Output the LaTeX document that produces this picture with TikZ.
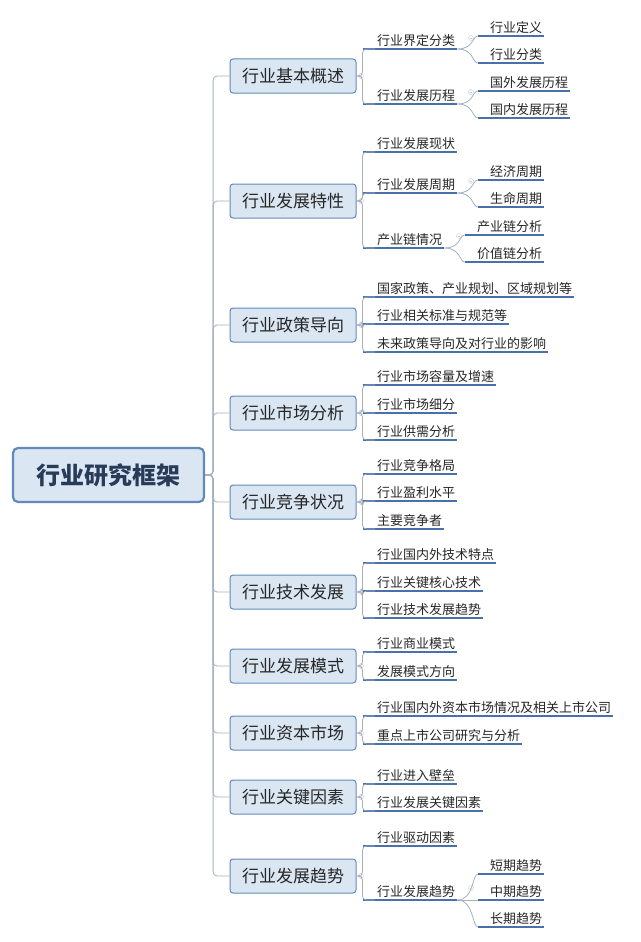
\documentclass[tikz,border=0pt]{standalone}
\usepackage{fontspec}
\newfontfamily\cjk{Noto Sans CJK SC}
\definecolor{boxfill}{RGB}{219,230,243}
\definecolor{boxline}{RGB}{98,137,186}
\definecolor{ulcolor}{RGB}{72,112,170}
\definecolor{linkgray}{RGB}{165,176,190}
\definecolor{roottext}{RGB}{40,60,90}
\tikzset{
  root/.style={draw=boxline, fill=boxfill, line width=2.2pt, rounded corners=5pt,
    font=\cjk\fontsize{24}{24}\selectfont\bfseries, text=roottext,
    minimum width=191pt, minimum height=54pt},
  topic/.style={draw=boxline, fill=boxfill, line width=1pt, rounded corners=3pt,
    font=\cjk\fontsize{17}{17}\selectfont, text=black!85,
    minimum width=126pt, minimum height=34pt},
  sub/.style={anchor=south west, inner sep=2pt, font=\cjk\fontsize{13}{13}\selectfont, text=black!85},
  uline/.style={draw=ulcolor, line width=1.3pt},
  link/.style={draw=linkgray, line width=0.8pt, rounded corners=4pt},
  fold/.style={draw=linkgray!70, line width=0.4pt}
}
% one underlined text: name, line start, text x, line y, text
\newcommand\subnode[5]{%
  \node[sub] (#1) at (#3,#4) {#5};
  \draw[uline] (#2,#4) -- (#1.south east);}
% small fold mark
\newcommand\foldmark[2]{%
  \draw[fold] (#1,#2) circle (2.5pt); \draw[fold] (#1-1.4,#2) -- (#1+1.4,#2);}
\begin{document}
\begin{tikzpicture}[x=1pt,y=-1pt]
\useasboundingbox (0,0) rectangle (640,942);

%ROOT
\node[root] (r) at (108.5,475) {行业研究框架};

%TOPICS
\foreach \n/\y/\t in {t1/76/行业基本概述, t2/201/行业发展特性, t3/325/行业政策导向,
  t4/413/行业市场分析, t5/502/行业竞争状况, t6/592/行业技术发展, t7/666/行业发展模式,
  t8/733/行业资本市场, t9/797/行业关键因素, t10/876/行业发展趋势}{
  \node[topic] (\n) at (293,\y) {\t};
  \draw[link] (r.east) -- ++(8,0) |- (\n.west);
  \foldmark{361}{\y}
}

%SUBTOPICS (line start 363, text 375)
\subnode{s11}{363}{375}{49}{行业界定分类}
\subnode{s12}{363}{375}{104}{行业发展历程}
\subnode{s21}{363}{375}{152}{行业发展现状}
\subnode{s22}{363}{375}{193}{行业发展周期}
\subnode{s23}{363}{375}{248}{产业链情况}
\subnode{s31}{363}{375}{297}{国家政策、产业规划、区域规划等}
\subnode{s32}{363}{375}{324}{行业相关标准与规范等}
\subnode{s33}{363}{375}{352}{未来政策导向及对行业的影响}
\subnode{s41}{363}{375}{385}{行业市场容量及增速}
\subnode{s42}{363}{375}{413}{行业市场细分}
\subnode{s43}{363}{375}{440}{行业供需分析}
\subnode{s51}{363}{375}{474}{行业竞争格局}
\subnode{s52}{363}{375}{501}{行业盈利水平}
\subnode{s53}{363}{375}{529}{主要竞争者}
\subnode{s61}{363}{375}{563}{行业国内外技术特点}
\subnode{s62}{363}{375}{591}{行业关键核心技术}
\subnode{s63}{363}{375}{618}{行业技术发展趋势}
\subnode{s71}{363}{375}{652}{行业商业模式}
\subnode{s72}{363}{375}{680}{发展模式方向}
\subnode{s81}{363}{375}{716}{行业国内外资本市场情况及相关上市公司}
\subnode{s82}{363}{375}{744}{重点上市公司研究与分析}
\subnode{s91}{363}{375}{784}{行业进入壁垒}
\subnode{s92}{363}{375}{811}{行业发展关键因素}
\subnode{s101}{363}{375}{846}{行业驱动因素}
\subnode{s102}{363}{375}{900}{行业发展趋势}

\foreach \p/\c in {t1/s11,t1/s12,t2/s21,t2/s22,t2/s23,t3/s31,t3/s32,t3/s33,
  t4/s41,t4/s42,t4/s43,t5/s51,t5/s52,t5/s53,t6/s61,t6/s62,t6/s63,
  t7/s71,t7/s72,t8/s81,t8/s82,t9/s91,t9/s92,t10/s101,t10/s102}{
  \draw[link] (\p.east) -- ++(6,0) |- (\c.south west);
}

%LEAVES
\subnode{l111}{478}{488}{36}{行业定义}
\subnode{l112}{478}{488}{63}{行业分类}
\subnode{l121}{478}{488}{91}{国外发展历程}
\subnode{l122}{478}{488}{118}{国内发展历程}
\subnode{l221}{478}{488}{180}{经济周期}
\subnode{l222}{478}{488}{207}{生命周期}
\subnode{l231}{465}{475}{235}{产业链分析}
\subnode{l232}{465}{475}{262}{价值链分析}
\subnode{l1021}{478}{488}{874}{短期趋势}
\subnode{l1022}{478}{488}{900}{中期趋势}
\subnode{l1023}{478}{488}{927}{长期趋势}

\foreach \p/\c/\x in {s11/l111/478,s11/l112/478,s12/l121/478,s12/l122/478,
  s22/l221/478,s22/l222/478,s23/l231/465,s23/l232/465,
  s102/l1021/478,s102/l1022/478,s102/l1023/478}{
  \draw[linkgray, line width=0.8pt] (\p.south east) .. controls (\x-4,0|-\p.south east) and (\x-6,0|-\c.south west) .. (\x,0|-\c.south west);
}
\foldmark{471}{38}
\foldmark{471}{92}
\foldmark{471}{181}
\foldmark{459}{236}
\foldmark{471}{888}
\end{tikzpicture}
\end{document}
